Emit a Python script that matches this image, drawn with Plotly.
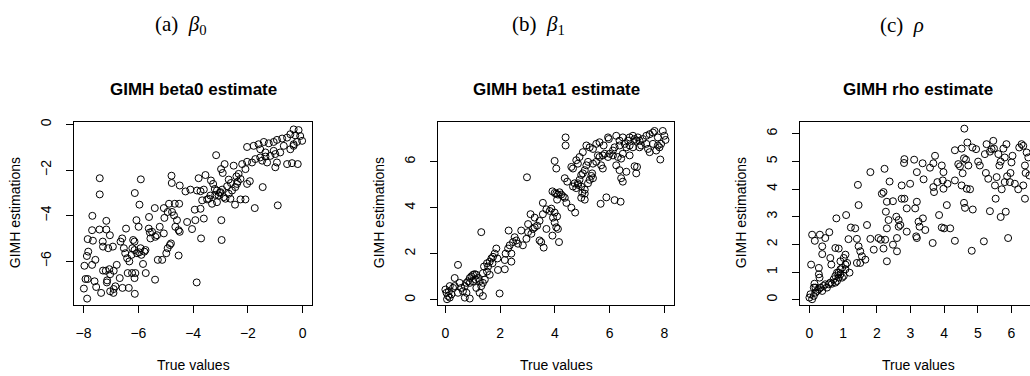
import plotly.graph_objects as go

# ---------------- data ----------------
beta0_true = [-0.33,-0.15,-0.45,-0.27,-0.09,-0.02,-0.21,-0.33,-0.57,-0.75,-0.94,-1.06,-1.24,-1.42,-1.61,-1.79,-2.03,-1.55,-1.36,-1.06,
              -0.82,-1.00,-1.18,-1.36,-1.55,-1.73,-1.85,-2.03,-2.21,-2.09,-1.48,-1.30,-0.94,-1.00,-0.57,-0.39,-0.18,-0.33,-0.45,-0.69,
              -3.16,-2.85,-2.98,-2.92,-2.52,-2.34,-2.27,-2.40,-2.46,-2.58,-2.70,-2.82,-2.88,-3.13,-3.31,-3.49,-3.61,-3.80,-3.55,-3.35,
              -3.27,-3.21,-3.13,-3.03,-3.07,-2.64,-2.27,-2.09,-1.93,-2.03,-1.75,-1.46,-2.47,-3.00,-3.19,-3.37,-3.43,-3.67,-3.73,-3.61,
              -3.71,-2.97,-2.96,-4.04,-3.92,-4.22,-3.94,-3.73,-3.86,-4.10,-4.28,-4.49,-4.78,-4.79,-4.51,-4.67,-4.88,-5.07,-5.40,-4.93,
              -4.77,-4.70,-4.59,-4.65,-4.53,-4.49,-5.05,-5.22,-5.32,-5.38,-5.62,-5.58,-5.50,-5.56,-5.07,-4.81,-4.85,-4.93,-4.98,-5.13,
              -5.29,-4.53,-3.87,-5.39,-5.73,-5.83,-5.97,-5.92,-6.14,-6.19,-6.22,-6.25,-6.14,-6.05,-5.74,-5.89,-5.78,-5.61,-5.96,-5.91,
              -6.13,-6.07,-5.99,-6.45,-6.59,-6.65,-6.53,-6.48,-6.41,-6.33,-6.39,-6.23,-6.11,-6.14,-6.35,-6.13,-6.58,-6.68,-6.79,-6.93,
              -7.04,-7.17,-7.17,-7.10,-7.29,-7.30,-7.42,-7.69,-7.85,-7.66,-7.68,-7.41,-7.41,-7.57,-7.69,-7.83,-7.88,-7.97,-7.93,-7.85,
              -7.60,-7.54,-7.29,-7.19,-7.06,-7.03,-7.14,-7.15,-7.03,-6.91,-6.90,-6.84,-7.36,-7.99,-7.87,-6.90,-0.91,-2.70,-2.62,-2.42,
              -2.37,-2.76,-2.94]
beta0_est = [-0.22,-0.25,-0.43,-0.48,-0.51,-0.72,-0.77,-0.94,-0.58,-0.62,-0.68,-0.77,-0.83,-0.77,-0.87,-0.94,-0.99,-1.09,-1.23,-1.16,
             -1.23,-1.30,-1.38,-1.41,-1.45,-1.52,-1.67,-1.64,-1.74,-1.96,-1.59,-1.67,-1.67,-1.88,-1.74,-1.70,-1.74,-0.87,-1.09,-0.94,
             -1.35,-1.74,-1.96,-2.13,-1.81,-2.17,-2.39,-2.61,-2.75,-2.90,-3.04,-3.26,-3.19,-3.41,-3.48,-3.29,-2.86,-2.36,-2.22,-2.46,
             -2.61,-2.83,-2.90,-3.00,-3.12,-3.26,-3.29,-3.29,-2.49,-2.61,-3.67,-2.75,-3.52,-2.97,-3.09,-3.12,-3.26,-3.33,-3.70,-4.13,
             -5.00,-4.20,-5.07,-4.59,-4.20,-4.28,-3.74,-2.93,-2.90,-2.86,-2.94,-2.68,-2.57,-2.25,-3.48,-3.48,-3.48,-3.67,-3.67,-3.84,
             -3.84,-3.99,-4.20,-4.49,-4.64,-4.71,-4.10,-4.49,-4.86,-4.93,-4.57,-4.74,-4.71,-5.00,-4.78,-5.22,-5.29,-5.43,-5.65,-5.94,
             -5.94,-5.75,-6.93,-6.81,-6.52,-6.12,-5.61,-5.43,-5.14,-5.07,-5.43,-5.72,-5.51,-5.65,-5.51,-5.72,-5.58,-4.06,-3.52,-2.41,
             -3.01,-4.20,-4.49,-4.57,-5.00,-5.14,-5.43,-5.65,-5.87,-6.01,-6.52,-6.52,-6.52,-6.74,-7.17,-7.43,-7.17,-6.74,-6.16,-5.36,
             -4.86,-4.61,-4.23,-5.43,-5.36,-5.14,-4.61,-4.64,-5.03,-5.10,-4.01,-2.36,-3.07,-5.94,-6.16,-5.58,-5.77,-6.20,-6.78,-6.78,
             -6.88,-7.13,-6.41,-6.42,-6.35,-6.57,-6.84,-6.93,-7.32,-7.39,-7.22,-7.10,-7.39,-7.20,-7.64,-6.42,-3.55,-2.42,-2.57,-2.28,
             -2.51,-2.71,-2.86]

beta1_true = [0.00,0.04,0.10,0.16,0.06,0.22,0.13,0.28,0.34,0.16,0.46,0.58,0.71,0.77,0.83,0.89,0.95,1.01,1.07,1.13,
              1.11,1.01,0.89,1.19,1.25,1.37,1.31,1.25,1.37,1.13,0.71,0.89,0.46,0.34,0.52,0.64,0.77,1.31,1.98,1.41,
              1.52,1.62,1.68,1.74,1.80,1.86,1.90,1.72,1.56,1.37,1.52,1.62,1.44,1.92,2.17,2.17,2.20,2.35,2.41,2.41,
              2.29,2.47,2.53,2.59,2.65,2.83,2.96,3.02,3.14,3.20,3.26,3.35,3.02,3.11,3.26,3.44,3.56,3.44,3.50,3.59,
              3.69,3.93,3.99,4.05,4.11,4.15,3.91,2.98,3.56,3.69,3.81,3.87,3.99,4.08,3.91,3.99,4.05,4.11,4.17,4.23,
              4.29,4.08,4.36,4.42,4.60,4.74,4.45,4.39,4.39,3.99,4.05,4.60,4.66,4.84,4.90,4.96,5.02,5.09,4.96,5.09,
              5.21,5.27,5.33,5.36,5.39,5.15,5.21,5.39,5.51,5.69,5.75,5.63,5.57,5.75,5.82,5.94,6.00,6.12,5.15,5.27,
              5.39,5.51,5.63,5.78,5.94,5.97,6.24,6.36,6.48,6.55,6.67,6.73,6.85,6.91,6.97,7.03,7.09,6.85,6.73,6.61,
              6.48,6.36,6.18,6.12,6.30,6.42,6.73,6.24,6.36,5.67,5.88,6.18,6.40,6.42,6.48,6.61,6.91,6.97,7.00,7.21,
              7.34,7.40,7.46,7.34,7.46,7.58,7.64,7.76,7.94,8.00,8.04,7.88,7.82,7.76,7.70,7.58,7.85,7.09,7.15,4.90,
              5.02,4.78,4.84,4.36,4.72,4.78,4.85,4.96,5.09,5.00,5.09,4.66,2.31,2.77]
beta1_est = [0.45,0.31,0.17,0.10,0.03,0.24,0.38,0.52,0.60,0.60,0.31,0.52,0.60,0.74,0.81,0.95,1.02,1.09,1.12,1.09,
             0.88,0.81,0.74,0.95,0.81,0.74,0.60,0.31,0.17,0.52,0.10,0.06,1.52,0.95,0.74,0.38,0.31,2.94,0.28,1.45,
             1.59,1.66,1.80,1.87,2.01,2.23,1.80,1.59,1.45,1.16,1.23,1.09,0.88,1.30,1.33,1.73,2.01,2.37,2.01,1.66,
             2.23,2.51,2.72,2.58,2.44,2.37,2.65,2.94,2.87,3.08,3.15,3.22,3.29,3.72,3.57,3.43,3.72,2.58,2.51,2.27,
             3.08,3.57,3.36,3.15,3.08,2.51,2.79,5.32,4.21,3.93,3.86,3.96,3.79,3.62,4.71,4.64,4.61,4.57,4.67,4.57,
             4.50,4.35,4.43,4.21,4.00,3.79,5.13,6.70,7.05,6.03,5.70,5.77,5.70,5.06,5.21,5.42,5.49,5.63,4.92,4.78,
             5.06,5.21,5.38,5.49,5.28,5.84,5.99,5.91,5.99,5.84,5.70,6.20,6.27,6.27,6.34,6.20,6.34,6.48,6.70,6.62,
             6.55,6.77,6.84,6.70,7.05,6.98,7.12,6.91,7.05,6.77,6.91,7.05,7.12,6.98,6.91,7.05,6.91,6.62,6.70,6.62,
             6.34,6.70,6.62,6.27,6.20,6.13,6.27,5.84,5.63,4.17,4.45,4.33,4.26,5.28,5.13,5.56,5.80,5.49,5.77,6.98,
             6.77,6.55,6.41,7.12,7.19,7.26,7.33,7.05,7.33,7.12,6.94,6.77,6.62,6.70,6.48,6.77,6.09,6.62,6.70,6.20,
             6.41,6.06,5.91,5.28,5.06,4.85,4.99,4.43,4.35,4.64,4.61,4.92,3.01,3.01]

rho_true = [0.00,0.03,0.08,0.13,0.18,0.23,0.13,0.28,0.33,0.38,0.42,0.47,0.52,0.57,0.62,0.67,0.77,0.82,0.72,0.87,
            0.77,0.82,0.92,0.97,1.02,0.87,0.92,0.18,0.15,0.05,0.28,0.28,0.30,0.38,0.08,0.16,0.31,0.38,0.47,0.59,
            0.62,0.65,0.77,0.87,0.80,1.09,1.07,0.92,1.07,1.02,1.12,1.19,1.07,0.97,1.16,1.23,1.36,1.41,1.46,1.51,
            1.56,1.66,1.41,1.51,1.46,1.44,1.71,1.81,1.81,1.91,2.05,2.12,2.20,2.15,2.20,2.23,2.25,2.30,2.30,2.27,
            2.35,2.30,2.38,2.48,2.58,2.60,2.65,2.48,2.60,2.65,2.70,2.74,2.74,2.82,2.82,2.81,2.89,2.89,2.99,3.11,
            3.19,3.14,3.19,3.24,3.27,3.37,3.39,3.19,3.17,3.44,3.36,3.58,3.68,3.70,3.68,3.66,3.73,3.80,3.85,3.93,
            3.93,4.00,3.96,3.98,3.98,4.08,4.10,4.18,4.32,4.32,4.32,4.42,4.47,4.52,4.52,4.55,4.59,4.59,4.65,4.62,
            4.67,4.60,4.69,4.72,4.77,4.82,4.84,4.85,4.95,5.01,5.06,5.18,5.21,5.26,5.24,5.31,5.36,5.36,5.41,5.46,
            5.48,5.51,5.53,5.56,5.61,5.64,5.68,5.71,5.68,5.76,5.80,5.80,5.83,5.85,5.87,5.90,5.95,6.00,5.97,6.03,
            6.10,6.20,6.23,6.30,6.35,6.40,6.35,6.40,6.42,6.45,6.50,6.53,6.70,6.90,6.80]
rho_est = [0.08,0.20,0.02,0.14,0.26,0.32,0.44,0.38,0.44,0.32,0.50,0.56,0.44,0.56,0.62,0.58,0.62,0.68,0.74,0.80,
           0.86,0.98,0.92,0.80,0.86,0.98,1.10,0.44,0.58,1.27,1.15,0.92,0.80,1.65,2.35,2.13,2.35,1.93,2.23,2.44,
           1.51,1.27,1.87,1.85,2.94,3.06,1.27,1.39,1.63,1.51,1.33,0.98,1.10,1.15,2.19,2.61,2.58,2.20,1.93,1.75,
           1.57,1.45,1.33,1.33,3.42,4.15,2.70,2.20,4.61,1.81,2.23,2.17,1.85,3.83,3.89,4.73,2.17,1.39,3.54,3.18,
           2.88,2.58,4.27,3.56,3.00,2.23,2.64,1.99,1.75,2.88,2.70,4.13,3.65,3.65,5.08,4.94,3.30,2.46,4.19,5.06,
           4.61,3.30,3.54,2.82,2.64,2.94,4.35,2.23,2.29,2.52,4.93,4.77,4.07,3.89,4.93,2.05,5.20,4.25,3.06,4.85,
           2.61,2.58,4.31,4.61,4.01,3.42,4.19,2.58,2.13,5.40,4.31,4.90,4.82,5.46,4.13,4.57,5.11,3.50,5.06,3.32,
           4.01,6.18,5.68,4.85,3.99,1.77,5.50,3.26,5.44,4.99,4.85,2.11,5.26,5.62,4.58,4.37,5.35,3.20,5.44,5.74,
           5.46,4.13,3.65,4.43,5.26,4.85,4.99,3.99,2.99,5.46,5.14,4.25,3.18,5.62,4.46,2.23,4.25,4.96,4.58,5.20,
           4.19,3.99,5.50,5.62,5.56,4.85,4.13,3.65,4.58,5.32,5.14,4.49,5.30,4.80,3.90]

captions = ["(a)&nbsp;&nbsp;<i>β</i><sub>0</sub>", "(b)&nbsp;&nbsp;<i>β</i><sub>1</sub>", "(c)&nbsp;&nbsp;<i>ρ</i>"]
titles = ["GIMH beta0 estimate", "GIMH beta1 estimate", "GIMH rho estimate"]
x_label = "True values"
y_label = "GIMH estimations"
xticks = [[-8, -6, -4, -2, 0], [0, 2, 4, 6, 8], [0, 1, 2, 3, 4, 5, 6, 7]]
yticks = [[0, -2, -4, -6], [0, 2, 4, 6], [0, 1, 2, 3, 4, 5, 6]]

# ---------------- layout geometry ----------------
W, H = 1030, 376
boxes = [(74, 312), (438, 674), (800, 1036)]   # plot-region px (left, right)
top_px, bot_px = 119, 304
xranges = [[-8.35, 0.34], [-0.27, 8.35], [-0.28, 6.55]]
yranges = [[-7.91, 0.117], [-0.21, 7.73], [-0.18, 6.43]]

font_sans = "Liberation Sans, Arial, sans-serif"
fig = go.Figure()
datasets = [(beta0_true, beta0_est), (beta1_true, beta1_est), (rho_true, rho_est)]
for i, (xs, ys) in enumerate(datasets):
    fig.add_trace(go.Scatter(
        x=xs, y=ys, mode="markers", xaxis=f"x{i+1}", yaxis=f"y{i+1}",
        marker=dict(symbol="circle-open", size=7, color="black", line=dict(width=1, color="black")),
        showlegend=False, hoverinfo="skip"))

layout = dict(width=W, height=H, margin=dict(l=0, r=0, t=0, b=0),
              paper_bgcolor="white", plot_bgcolor="white", showlegend=False)
ydom = [1 - bot_px / H, 1 - top_px / H]
for i in range(3):
    l, r = boxes[i]
    r_vis = min(r, W)
    sfx = "" if i == 0 else str(i + 1)
    layout["xaxis" + sfx] = dict(
        domain=[l / W, r_vis / W], range=xranges[i], anchor="y" + str(i + 1),
        tickmode="array", tickvals=xticks[i], ticks="outside", ticklen=7, tickwidth=1, tickcolor="black",
        showline=True, linecolor="black", linewidth=1, mirror=True, showgrid=False, zeroline=False,
        tickfont=dict(family=font_sans, size=14, color="black"), ticklabelstandoff=8, fixedrange=True)
    layout["yaxis" + sfx] = dict(
        domain=ydom, range=yranges[i], anchor="x" + str(i + 1),
        tickmode="array", tickvals=yticks[i], ticks="outside", ticklen=7, tickwidth=1, tickcolor="black",
        showline=True, linecolor="black", linewidth=1, mirror=(i < 2), showgrid=False, zeroline=False,
        tickangle=-90, tickfont=dict(family=font_sans, size=14, color="black"), ticklabelstandoff=9,
        fixedrange=True)
fig.update_layout(**layout)

caption_x = [181, 538, 902]
ann = []
for i in range(3):
    l, r = boxes[i]
    cx = (l + r) / 2
    ann.append(dict(text=captions[i], x=caption_x[i] / W, y=1 - 21 / H, xref="paper", yref="paper",
                    showarrow=False, xanchor="center", yanchor="middle",
                    font=dict(family="Liberation Serif, serif", size=21, color="black")))
    ann.append(dict(text="<b>" + titles[i] + "</b>", x=cx / W, y=1 - 86 / H, xref="paper", yref="paper",
                    showarrow=False, xanchor="center", yanchor="middle",
                    font=dict(family=font_sans, size=17, color="black")))
    ann.append(dict(text=x_label, x=cx / W, y=1 - 365 / H, xref="paper", yref="paper",
                    showarrow=False, xanchor="center", yanchor="middle",
                    font=dict(family=font_sans, size=14, color="black")))
    ann.append(dict(text=y_label, x=(l - 59) / W, y=1 - ((top_px + bot_px) / 2) / H, xref="paper", yref="paper",
                    showarrow=False, xanchor="center", yanchor="middle", textangle=-90,
                    font=dict(family=font_sans, size=14, color="black")))
fig.update_layout(annotations=ann)

fig.write_html("out.html")
